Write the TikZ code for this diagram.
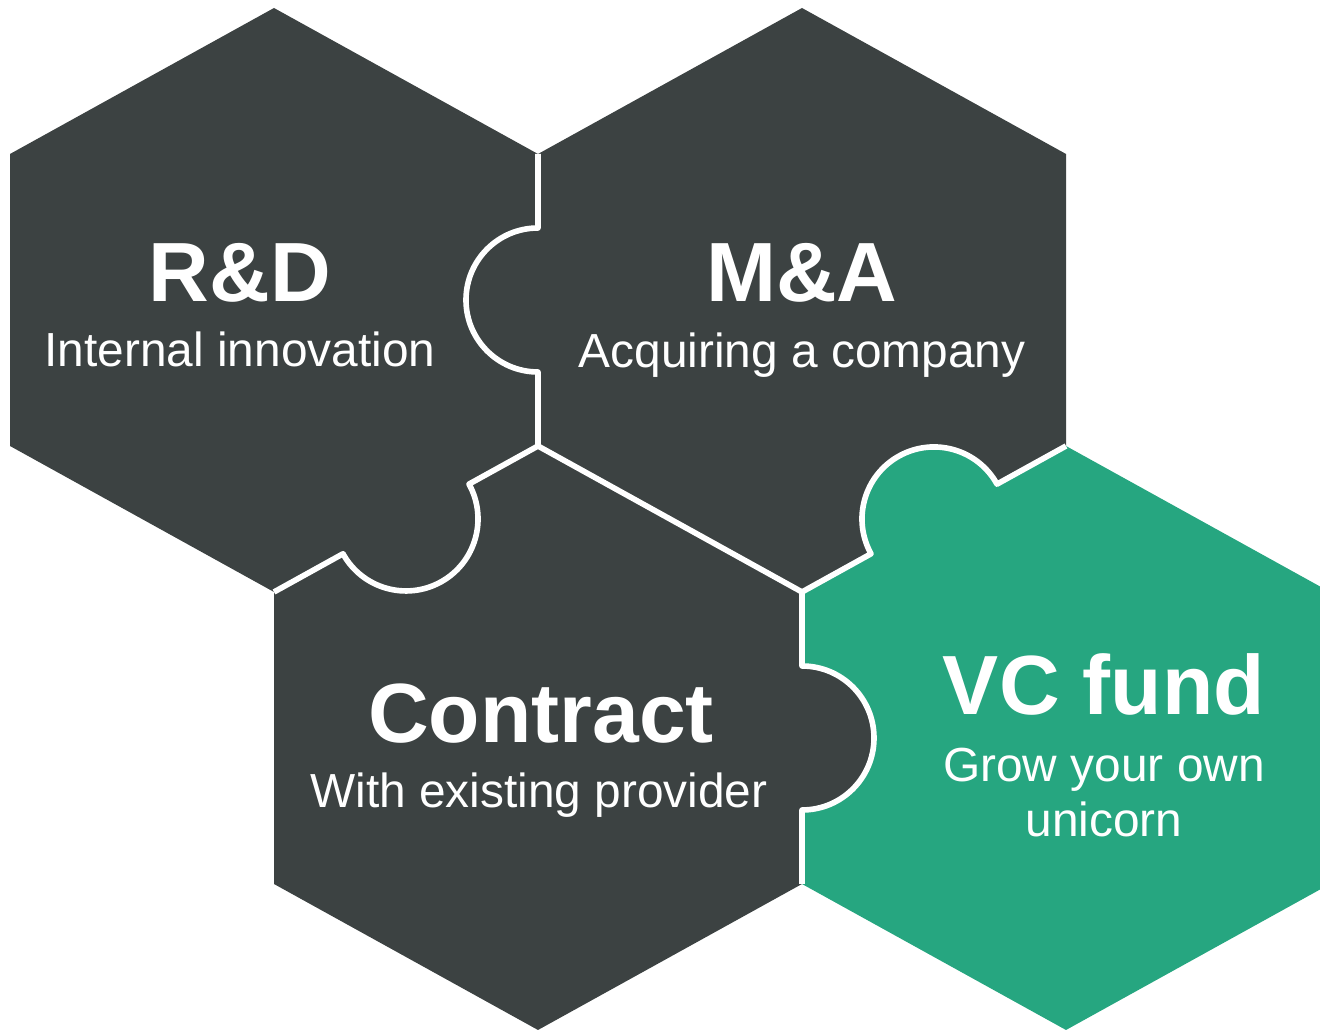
\documentclass[tikz,border=0pt]{standalone}
\usepackage{fontspec}
\setmainfont{Liberation Sans}
\definecolor{padgray}{HTML}{3C4242}
\definecolor{padgreen}{HTML}{26A680}
\tikzset{
  piece/.style={fill=padgray},
  vcpiece/.style={fill=padgreen},
  seam/.style={draw=white, line width=1.6pt, line join=round},
  title/.style={text=white, anchor=base, font=\bfseries\fontsize{23.9}{28}\selectfont},
  subtitle/.style={text=white, anchor=base, font=\fontsize{13.6}{15.6}\selectfont},
}

\begin{document}
\begin{tikzpicture}[x=0.01cm, y=-0.01cm]
    \useasboundingbox (0,0) rectangle (1320,1031);
    \clip (0,0) rectangle (1320,1031);
    % centres of the four pieces
    \coordinate (rd) at (274,300);
    \coordinate (ma) at (802,300);
    \coordinate (co) at (538,738);
    \coordinate (vc) at (1066,738);
    % the hexagons
    \fill[piece] (rd) ++(0,-292) -- ++(264,146) -- ++(0,292) -- ++(-264,146) -- ++(-264,-146) -- ++(0,-292) -- cycle;
    \fill[piece] (ma) ++(0,-292) -- ++(264,146) -- ++(0,292) -- ++(-264,146) -- ++(-264,-146) -- ++(0,-292) -- cycle;
    \fill[piece] (co) ++(0,-292) -- ++(264,146) -- ++(0,292) -- ++(-264,146) -- ++(-264,-146) -- ++(0,-292) -- cycle;
    \fill[vcpiece] (vc) ++(0,-292) -- ++(264,146) -- ++(0,292) -- ++(-264,146) -- ++(-264,-146) -- ++(0,-292) -- cycle;
    % knobs
    \coordinate (k1) at (538,300);
    \coordinate (k2) at (406,519);
    \coordinate (k3) at (802,738);
    \coordinate (k4) at (934,519);
    \fill[piece] (k1) circle[radius=72];
    \fill[piece] (k2) circle[radius=72];
    \fill[piece] (k3) circle[radius=72];
    \fill[vcpiece] (k4) circle[radius=72];
    % seams
    \draw[seam] (538,154) -- (538,228) arc[start angle=270, end angle=90, radius=72] -- (538,446);
    \draw[seam] (274,592) -- (343,553.8) arc[start angle=151.06, end angle=-28.94, radius=72] -- (538,446);
    \draw[seam] (538,446) -- (802,592);
    \draw[seam] (802,592) -- (802,666) arc[start angle=270, end angle=450, radius=72] -- (802,884);
    \draw[seam] (802,592) -- (871,553.8) arc[start angle=151.06, end angle=331.06, radius=72] -- (1066,446);
    % labels
    \node[title] (rdtitle) at (240,302) {R\&D};
    \node[subtitle] (rdsub) at (240,367) {Internal innovation};
    \node[title] (matitle) at (802,302) {M\&A};
    \node[subtitle] (masub) at (802,368) {Acquiring a company};
    \node[title] (cotitle) at (541,743) {Contract};
    \node[subtitle] (cosub) at (539,808) {With existing provider};
    \node[title] (vctitle) at (1104,715) {VC fund};
    \node[subtitle] (vcsub) at (1104,782) {Grow your own};
    \node[subtitle] (vcsub2) at (1104,837) {unicorn};
\end{tikzpicture}
\end{document}
